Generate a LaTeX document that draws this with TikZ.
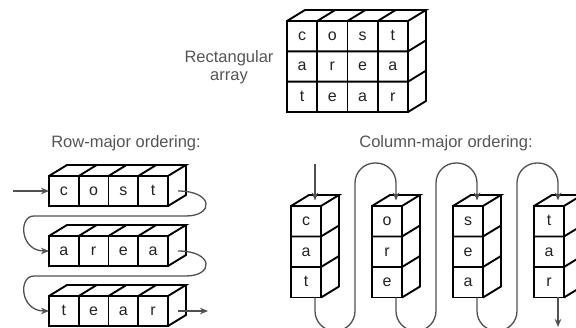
\documentclass[tikz,border=0pt]{standalone}
\usepackage{fontspec}
\setmainfont{Liberation Sans}
\usetikzlibrary{arrows.meta}
\definecolor{txtgray}{HTML}{555555}
\definecolor{linegray}{HTML}{505050}
\definecolor{lettergray}{HTML}{222222}
\tikzset{
  boxline/.style={line width=1.9pt, black, line join=miter},
  cellletter/.style={font=\fontsize{16}{16}\selectfont, text=lettergray, inner sep=0pt, anchor=base},
  caption/.style={font=\fontsize{16.5}{18}\selectfont, text=txtgray, align=center, inner sep=0pt},
  flow/.style={line width=1.3pt, linegray, -{Stealth[length=8pt,width=6.5pt,inset=2.5pt]}},
  flowround/.style={flow, rounded corners=20pt},
}
\def\dpx{18}
\def\dpy{-11}
% #1 x0, #2 y0, #3 cols, #4 rows, #5 cell w, #6 cell h, #7 letters l/c/r, #8 name prefix
\newcommand{\drawblock}[8]{%
  \pgfmathsetmacro\bxA{#1+#3*#5}%
  \pgfmathsetmacro\byA{#2+#4*#6}%
  \pgfmathtruncatemacro\bcm{#3-1}%
  \pgfmathtruncatemacro\brm{#4-1}%
  \draw[boxline] (#1,#2) -- ++(\dpx,\dpy) -- ({\bxA+\dpx},{#2+\dpy}) -- (\bxA,#2);
  \draw[boxline] ({\bxA+\dpx},{#2+\dpy}) -- ({\bxA+\dpx},{\byA+\dpy}) -- (\bxA,\byA);
  \draw[boxline] (#1,#2) rectangle (\bxA,\byA);
  \ifnum#3>1
    \foreach \i in {1,...,\bcm}{%
      \draw[boxline] ({#1+\i*#5},#2) -- ++(0,{#4*#6});
      \draw[boxline] ({#1+\i*#5},#2) -- ++(\dpx,\dpy);
    }%
  \fi
  \ifnum#4>1
    \foreach \j in {1,...,\brm}{%
      \draw[boxline] (#1,{#2+\j*#6}) -- (\bxA,{#2+\j*#6}) -- ++(\dpx,\dpy);
    }%
  \fi
  \foreach \l/\c/\r in {#7}{%
    \node[cellletter] (#8\c\r) at ({#1+(\c-0.5)*#5},{#2+(\r-0.5)*#6+4.4}) {\l};
  }%
}
\begin{document}
\begin{tikzpicture}[x=1pt,y=-1pt]
\clip (0,0) rectangle (576,328);

% rectangular array
\node[caption] (rectlabel) at (229,67) {Rectangular\\array};
\drawblock{287}{21}{4}{3}{30.25}{30.33}{c/1/1,o/2/1,s/3/1,t/4/1,a/1/2,r/2/2,e/3/2,a/4/2,t/1/3,e/2/3,a/3/3,r/4/3}{A}

% row-major
\node[caption] (rowlabel) at (126,143) {Row-major ordering:};
\drawblock{49}{176}{4}{1}{29.75}{30}{c/1/1,o/2/1,s/3/1,t/4/1}{Ra}
\drawblock{49}{236}{4}{1}{29.75}{30}{a/1/1,r/2/1,e/3/1,a/4/1}{Rb}
\drawblock{49}{296}{4}{1}{29.75}{30}{t/1/1,e/2/1,a/3/1,r/4/1}{Rc}

\coordinate (rin) at (13,191);
\coordinate (r1w) at (49,191);
\coordinate (r1e) at (178,191);
\coordinate (r2w) at (49,251);
\coordinate (r2e) at (178,251);
\coordinate (r3w) at (49,311);
\coordinate (r3e) at (178,311);
\coordinate (rout) at (208,311);

\draw[flow] (rin) -- (r1w);
\draw[flow] (r1e) .. controls (214,191) and (214,216) .. (186,216) -- (34,216) .. controls (18,216) and (20,251) .. (r2w);
\draw[flow] (r2e) .. controls (214,251) and (214,276) .. (186,276) -- (34,276) .. controls (18,276) and (20,311) .. (r3w);
\draw[flow] (r3e) -- (rout);

% column-major
\node[caption] (collabel) at (446,143) {Column-major ordering:};
\drawblock{291}{206}{1}{3}{30}{30.5}{c/1/1,a/1/2,t/1/3}{Ca}
\drawblock{372}{206}{1}{3}{30}{30.5}{o/1/1,r/1/2,e/1/3}{Cb}
\drawblock{453}{206}{1}{3}{30}{30.5}{s/1/1,e/1/2,a/1/3}{Cc}
\drawblock{534}{206}{1}{3}{30}{30.5}{t/1/1,a/1/2,r/1/3}{Cd}

\coordinate (cin) at (315,164);
\coordinate (c1t) at (315,200.5);
\coordinate (c2t) at (396,200.5);
\coordinate (c3t) at (477,200.5);
\coordinate (c4t) at (558,200.5);
\coordinate (c1b) at (315,297.5);
\coordinate (c2b) at (396,297.5);
\coordinate (c3b) at (477,297.5);
\coordinate (c4b) at (558,297.5);
\coordinate (cout) at (558,327);

\draw[flow] (cin) -- (c1t);
\draw[flowround] (c1b) -- (315,331) -- (355,331) -- (355,163) -- (396,163) -- (c2t);
\draw[flowround] (c2b) -- (396,331) -- (436,331) -- (436,163) -- (477,163) -- (c3t);
\draw[flowround] (c3b) -- (477,331) -- (517,331) -- (517,163) -- (558,163) -- (c4t);
\draw[flow] (c4b) -- (cout);
\end{tikzpicture}
\end{document}
